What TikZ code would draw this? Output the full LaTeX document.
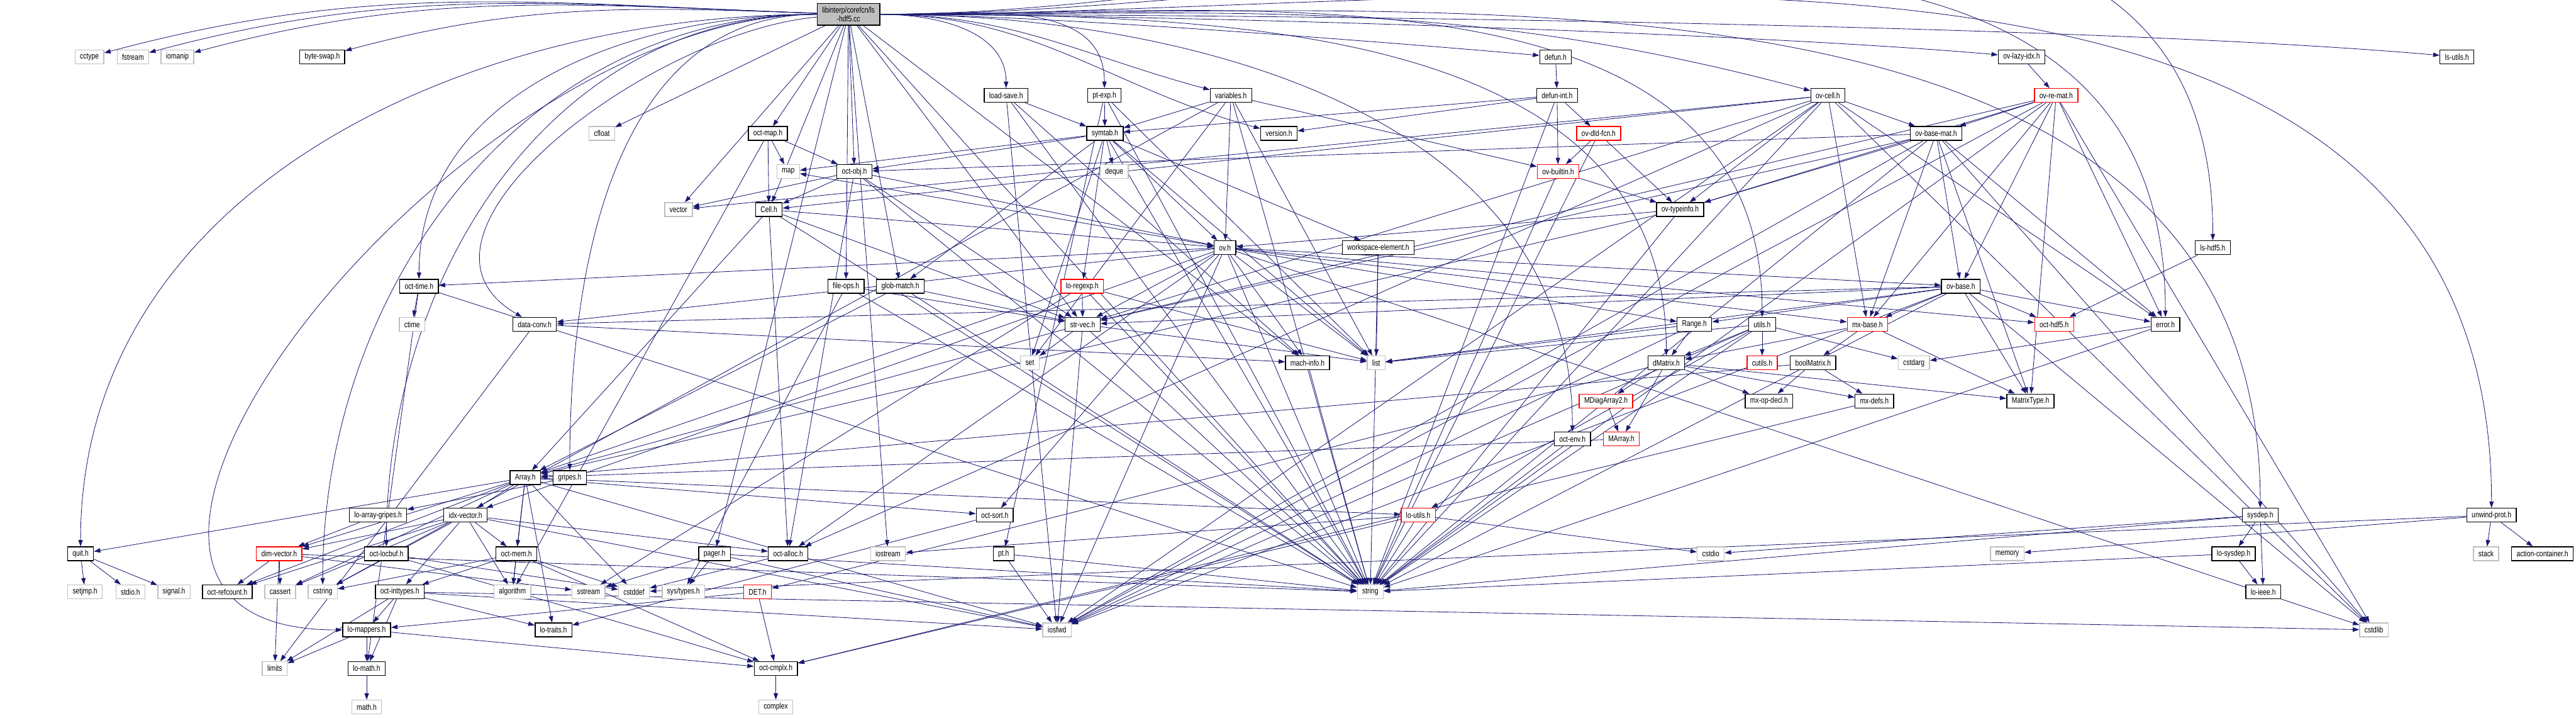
\documentclass[tikz,border=0pt]{standalone}
\usepackage{fontspec}
\newfontfamily\hdrfamily[FakeStretch=0.8]{Liberation Sans}
\usetikzlibrary{arrows.meta,backgrounds}
\definecolor{edgeblue}{HTML}{191970}
\definecolor{extgray}{HTML}{BFBFBF}
\newcommand{\hdrfont}{\hdrfamily\fontsize{4.7}{5.0}\selectfont}
\tikzset{
  hbox/.style={rectangle, fill=white, inner xsep=0.1cm, inner ysep=0pt, minimum height=0.28cm, font=\hdrfont, line width=0.5pt},
  hdr/.style={hbox, draw=black},
  ext/.style={hbox, draw=extgray},
  trunc/.style={hbox, draw=red},
  root/.style={hbox, draw=black, fill=extgray, align=center, minimum height=0.44cm},
  dep/.style={draw=edgeblue, line width=0.3pt, -{Triangle[length=1.3mm,width=0.9mm]}},
}
\begin{document}
\begin{tikzpicture}
  \useasboundingbox (0,0) rectangle (52.13,-14.51);
  % nodo raiz
  \node[root] (lshdfcc) at (17.17,-0.29) {libinterp/corefcn/ls\\-hdf5.cc};
  % fila 1
  \node[ext] (cctype) at (1.81,-1.15) {cctype};
  \node[ext] (fstream) at (2.69,-1.15) {fstream};
  \node[ext] (iomanip) at (3.59,-1.15) {iomanip};
  \node[hdr] (byteswap) at (6.52,-1.15) {byte-swap.h};
  \node[hdr] (defun) at (31.48,-1.15) {defun.h};
  \node[hdr] (ovlazyidx) at (40.91,-1.15) {ov-lazy-idx.h};
  \node[hdr] (lsutils) at (49.72,-1.15) {ls-utils.h};
  % fila 2
  \node[hdr] (loadsave) at (20.36,-1.93) {load-save.h};
  \node[hdr] (ptexp) at (22.35,-1.93) {pt-exp.h};
  \node[hdr] (variables) at (24.91,-1.93) {variables.h};
  \node[hdr] (defunint) at (31.51,-1.93) {defun-int.h};
  \node[hdr] (ovcell) at (36.99,-1.93) {ov-cell.h};
  \node[trunc] (ovremat) at (41.61,-1.93) {ov-re-mat.h};
  % fila 3
  \node[ext] (cfloat) at (12.18,-2.70) {cfloat};
  \node[hdr] (octmap) at (15.54,-2.70) {oct-map.h};
  \node[hdr] (symtab) at (22.36,-2.70) {symtab.h};
  \node[hdr] (version) at (25.88,-2.70) {version.h};
  \node[trunc] (ovdldfcn) at (32.35,-2.70) {ov-dld-fcn.h};
  \node[hdr] (ovbasemat) at (39.18,-2.70) {ov-base-mat.h};
  % fila 4
  \node[ext] (map) at (15.95,-3.47) {map};
  \node[hdr] (octobj) at (17.29,-3.47) {oct-obj.h};
  \node[ext] (deque) at (22.55,-3.47) {deque};
  \node[trunc] (ovbuiltin) at (31.53,-3.47) {ov-builtin.h};
  % fila 5
  \node[ext] (vector) at (13.73,-4.24) {vector};
  \node[hdr] (cell) at (15.56,-4.24) {Cell.h};
  \node[hdr] (ovtypeinfo) at (34.00,-4.24) {ov-typeinfo.h};
  % fila 6
  \node[hdr] (ov) at (24.79,-5.01) {ov.h};
  \node[hdr] (wselem) at (27.89,-5.01) {workspace-element.h};
  \node[hdr] (lshdf) at (44.78,-5.01) {ls-hdf5.h};
  % fila 7
  \node[hdr] (octtime) at (8.48,-5.79) {oct-time.h};
  \node[hdr] (fileops) at (17.12,-5.79) {file-ops.h};
  \node[hdr] (globmatch) at (18.22,-5.79) {glob-match.h};
  \node[trunc] (loregexp) at (21.90,-5.79) {lo-regexp.h};
  \node[hdr] (ovbase) at (39.68,-5.79) {ov-base.h};
  % fila 8
  \node[ext] (ctime) at (8.34,-6.56) {ctime};
  \node[hdr] (dataconv) at (10.82,-6.56) {data-conv.h};
  \node[hdr] (strvec) at (21.91,-6.56) {str-vec.h};
  \node[hdr] (range) at (34.29,-6.56) {Range.h};
  \node[hdr] (utils) at (35.66,-6.56) {utils.h};
  \node[trunc] (mxbase) at (37.79,-6.56) {mx-base.h};
  \node[trunc] (octhdf) at (41.57,-6.56) {oct-hdf5.h};
  \node[hdr] (error) at (43.82,-6.56) {error.h};
  % fila 9
  \node[ext] (set) at (20.84,-7.34) {set};
  \node[hdr] (machinfo) at (26.46,-7.34) {mach-info.h};
  \node[ext] (list) at (27.85,-7.34) {list};
  \node[hdr] (dmatrix) at (33.72,-7.34) {dMatrix.h};
  \node[trunc] (cutils) at (35.66,-7.34) {cutils.h};
  \node[hdr] (boolmatrix) at (36.69,-7.34) {boolMatrix.h};
  \node[ext] (cstdarg) at (38.73,-7.34) {cstdarg};
  % fila 10
  \node[trunc] (mdiag) at (32.50,-8.11) {MDiagArray2.h};
  \node[hdr] (mxopdecl) at (35.80,-8.11) {mx-op-decl.h};
  \node[hdr] (mxdefs) at (37.93,-8.11) {mx-defs.h};
  \node[hdr] (matrixtype) at (41.09,-8.11) {MatrixType.h};
  % fila 11
  \node[hdr] (octenv) at (31.82,-8.88) {oct-env.h};
  \node[trunc] (marray) at (32.81,-8.88) {MArray.h};
  % fila 12
  \node[hdr] (array) at (10.63,-9.66) {Array.h};
  \node[hdr] (gripes) at (11.53,-9.66) {gripes.h};
  % fila 13
  \node[hdr] (loarraygripes) at (7.65,-10.42) {lo-array-gripes.h};
  \node[hdr] (idxvector) at (9.42,-10.42) {idx-vector.h};
  \node[hdr] (octsort) at (20.13,-10.42) {oct-sort.h};
  \node[trunc] (loutils) at (28.70,-10.42) {lo-utils.h};
  \node[hdr] (sysdep) at (45.74,-10.42) {sysdep.h};
  \node[hdr] (unwindprot) at (50.42,-10.42) {unwind-prot.h};
  % fila 14
  \node[hdr] (quit) at (1.63,-11.20) {quit.h};
  \node[trunc] (dimvector) at (5.65,-11.20) {dim-vector.h};
  \node[hdr] (octlocbuf) at (7.82,-11.20) {oct-locbuf.h};
  \node[hdr] (octmem) at (10.45,-11.20) {oct-mem.h};
  \node[hdr] (pager) at (14.46,-11.20) {pager.h};
  \node[hdr] (octalloc) at (15.95,-11.20) {oct-alloc.h};
  \node[ext] (iostream) at (17.97,-11.20) {iostream};
  \node[hdr] (pt) at (20.31,-11.20) {pt.h};
  \node[ext] (cstdio) at (34.62,-11.20) {cstdio};
  \node[ext] (memory) at (40.62,-11.20) {memory};
  \node[hdr] (losysdep) at (45.20,-11.20) {lo-sysdep.h};
  \node[ext] (stack) at (50.31,-11.20) {stack};
  \node[hdr] (actioncont) at (51.45,-11.20) {action-container.h};
  % fila 15
  \node[ext] (setjmp) at (1.72,-11.97) {setjmp.h};
  \node[ext] (stdioh) at (2.64,-11.97) {stdio.h};
  \node[ext] (signal) at (3.52,-11.97) {signal.h};
  \node[hdr] (octrefcount) at (4.60,-11.97) {oct-refcount.h};
  \node[ext] (cassert) at (5.67,-11.97) {cassert};
  \node[ext] (cstring) at (6.53,-11.97) {cstring};
  \node[hdr] (octinttypes) at (8.09,-11.97) {oct-inttypes.h};
  \node[ext] (algorithm) at (10.37,-11.97) {algorithm};
  \node[ext] (sstream) at (11.91,-11.97) {sstream};
  \node[ext] (cstddef) at (12.83,-11.97) {cstddef};
  \node[ext] (systypes) at (13.83,-11.97) {sys/types.h};
  \node[trunc] (det) at (15.33,-11.97) {DET.h};
  \node[ext] (string) at (27.73,-11.97) {string};
  \node[hdr] (loieee) at (45.80,-11.97) {lo-ieee.h};
  % fila 16
  \node[hdr] (lomappers) at (7.42,-12.74) {lo-mappers.h};
  \node[hdr] (lotraits) at (11.20,-12.74) {lo-traits.h};
  \node[ext] (iosfwd) at (21.39,-12.74) {iosfwd};
  \node[ext] (cstdlib) at (48.04,-12.74) {cstdlib};
  % fila 17
  \node[ext] (limits) at (5.56,-13.52) {limits};
  \node[hdr] (lomath) at (7.42,-13.52) {lo-math.h};
  \node[hdr] (octcmplx) at (15.70,-13.52) {oct-cmplx.h};
  % fila 18
  \node[ext] (mathh) at (7.42,-14.30) {math.h};
  \node[ext] (complex) at (15.70,-14.30) {complex};

  \begin{scope}[on background layer]
  % desde el nodo raiz
  \foreach \t in {cctype,fstream,iomanip,byteswap} \draw[dep] (lshdfcc) to[out=178,in=15] (\t);
  \foreach \t in {quit,cstring,octlocbuf,octtime,gripes} \draw[dep] (lshdfcc) to[out=180,in=90] (\t);
  \draw[dep] (lshdfcc) to[out=180,in=180,looseness=1.2] (lomappers);
  \draw[dep] (lshdfcc) to[out=185,in=150] (dataconv);
  \foreach \t in {cfloat,vector,octmap,cell,octobj,fileops,globmatch,pager,iostream,strvec,string,machinfo} \draw[dep] (lshdfcc) -- (\t);
  \foreach \t in {loadsave,ptexp,octenv,dmatrix,utils,error,lshdf,sysdep,unwindprot} \draw[dep] (lshdfcc) to[out=0,in=90] (\t);
  \foreach \t in {variables,version,ovcell} \draw[dep] (lshdfcc) to[out=0,in=165] (\t);
  \foreach \t in {defun,ovlazyidx,lsutils} \draw[dep] (lshdfcc) to[out=0,in=175,looseness=0.6] (\t);
  % cabeceras de interp
  \foreach \t in {iosfwd,string,machinfo,symtab} \draw[dep] (loadsave) -- (\t);
  \foreach \t in {symtab,pt,string,list} \draw[dep] (ptexp) -- (\t);
  \foreach \t in {cstring,list,set,string,ov,ovbuiltin,symtab} \draw[dep] (variables) -- (\t);
  \draw[dep] (defun) -- (defunint);
  \foreach \t in {string,ovbuiltin,ovdldfcn,symtab,version} \draw[dep] (defunint) -- (\t);
  \foreach \t in {cstdlib,iosfwd,string,vector,mxbase,octalloc,strvec,cell,error,ovbasemat,ovtypeinfo} \draw[dep] (ovcell) -- (\t);
  \foreach \t in {cstdlib,iosfwd,string,mxbase,strvec,error,ovbase,ovbasemat,ovtypeinfo,matrixtype} \draw[dep] (ovremat) -- (\t);
  \draw[dep] (ovlazyidx) -- (ovremat);
  \foreach \t in {algorithm,map,cell,octobj} \draw[dep] (octmap) -- (\t);
  \foreach \t in {deque,list,map,set,string,globmatch,loregexp,octobj,ov,wselem} \draw[dep] (symtab) -- (\t);
  \foreach \t in {string,ovbuiltin,ovtypeinfo} \draw[dep] (ovdldfcn) -- (\t);
  \foreach \t in {cstdlib,iosfwd,string,mxbase,strvec,matrixtype,error,octobj,ovbase,ovtypeinfo} \draw[dep] (ovbasemat) -- (\t);
  \foreach \t in {string,vector,octalloc,strvec,cell,ov} \draw[dep] (octobj) -- (\t);
  \foreach \t in {string,ovtypeinfo} \draw[dep] (ovbuiltin) -- (\t);
  \foreach \t in {string,array,octalloc,strvec,ov} \draw[dep] (cell) -- (\t);
  \foreach \t in {string,array,ov} \draw[dep] (ovtypeinfo) -- (\t);
  \foreach \t in {cstdlib,iosfwd,string,list,map,range,dataconv,idxvector,machinfo,mxbase,octalloc,octtime,strvec,octhdf,octsort,ovbase} \draw[dep] (ov) -- (\t);
  \foreach \t in {list,string} \draw[dep] (wselem) -- (\t);
  \draw[dep] (lshdf) -- (octhdf);
  \foreach \t in {cstdlib,iosfwd,list,string,range,dataconv,mxbase,strvec,error,octhdf,matrixtype} \draw[dep] (ovbase) -- (\t);
  \foreach \t in {cstdarg,string} \draw[dep] (error) -- (\t);
  % cabeceras de liboctave
  \foreach \t in {ctime,string,lomath} \draw[dep] (octtime) -- (\t);
  \foreach \t in {string,strvec,systypes} \draw[dep] (fileops) -- (\t);
  \foreach \t in {string,array,strvec} \draw[dep] (globmatch) -- (\t);
  \foreach \t in {list,sstream,string,array,strvec} \draw[dep] (loregexp) -- (\t);
  \foreach \t in {limits,machinfo} \draw[dep] (dataconv) -- (\t);
  \foreach \t in {iosfwd,list,set,string,array} \draw[dep] (strvec) -- (\t);
  \foreach \t in {iosfwd,list,dmatrix} \draw[dep] (range) -- (\t);
  \foreach \t in {cstdarg,iosfwd,list,string,dmatrix,loutils,cutils} \draw[dep] (utils) -- (\t);
  \foreach \t in {boolmatrix,dmatrix,matrixtype} \draw[dep] (mxbase) -- (\t);
  \draw[dep] (machinfo) -- (string);
  \foreach \t in {marray,mdiag,mxdefs,mxopdecl,matrixtype,det} \draw[dep] (dmatrix) -- (\t);
  \foreach \t in {array,mxdefs,mxopdecl} \draw[dep] (boolmatrix) -- (\t);
  \draw[dep] (mdiag) -- (marray);
  \draw[dep] (mxdefs) -- (octcmplx);
  \draw[dep] (marray) -- (array);
  \draw[dep] (octenv) -- (string);
  \foreach \t in {cassert,cstddef,algorithm,iosfwd,dimvector,idxvector,lotraits,loutils,octsort,quit,octmem,octrefcount} \draw[dep] (array) -- (\t);
  \draw[dep] (gripes) -- (loarraygripes);
  \draw[dep] (loarraygripes) -- (dimvector);
  \foreach \t in {cassert,cstring,algorithm,iosfwd,dimvector,octinttypes,octalloc,octmem,octrefcount} \draw[dep] (idxvector) -- (\t);
  \draw[dep] (octsort) -- (lotraits);
  \foreach \t in {cstdio,iostream,string,octcmplx} \draw[dep] (loutils) -- (\t);
  \foreach \t in {cstdio,string,loieee,losysdep} \draw[dep] (sysdep) -- (\t);
  \foreach \t in {cstddef,stack,memory,actioncont} \draw[dep] (unwindprot) -- (\t);
  \foreach \t in {cassert,limits,sstream,string,octrefcount} \draw[dep] (dimvector) -- (\t);
  \foreach \t in {cstddef,octcmplx} \draw[dep] (octlocbuf) -- (\t);
  \foreach \t in {cstddef,cstring,algorithm,octcmplx,octinttypes} \draw[dep] (octmem) -- (\t);
  \foreach \t in {iosfwd,sstream,string,systypes} \draw[dep] (pager) -- (\t);
  \foreach \t in {string,iosfwd} \draw[dep] (pt) -- (\t);
  \draw[dep] (octalloc) -- (cstddef);
  \foreach \t in {string,loieee} \draw[dep] (losysdep) -- (\t);
  \foreach \t in {cstdlib,limits,iosfwd,lotraits,lomath,lomappers} \draw[dep] (octinttypes) -- (\t);
  \foreach \t in {octcmplx,lomappers} \draw[dep] (det) -- (\t);
  \foreach \t in {limits,octcmplx,lomath} \draw[dep] (lomappers) -- (\t);
  \draw[dep] (lomath) -- (mathh);
  \draw[dep] (octcmplx) -- (complex);
  \foreach \t in {setjmp,stdioh,signal} \draw[dep] (quit) -- (\t);
  \end{scope}
\end{tikzpicture}
\end{document}
